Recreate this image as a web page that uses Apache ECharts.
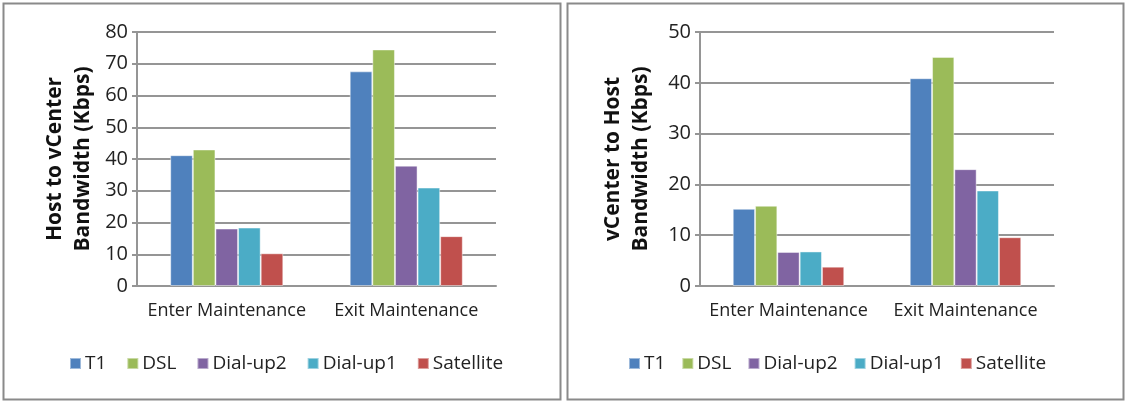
<!DOCTYPE html>
<html>
<head>
<meta charset="utf-8">
<script src="https://cdn.jsdelivr.net/npm/echarts@6/dist/echarts.min.js"></script>
<style>
  html, body { margin: 0; padding: 0; background: #fff; }
  #main { width: 1126px; height: 401px; }
</style>
</head>
<body>
<div id="main"></div>
<script>
const categories = ['Enter Maintenance', 'Exit Maintenance'];
const seriesNames = ['T1', 'DSL', 'Dial-up2', 'Dial-up1', 'Satellite'];
const colors = ['#4F81BD', '#9BBB59', '#8064A2', '#4BACC6', '#C0504D'];

// Host to vCenter (left)
const hostToVc = {
  T1: [41.2, 67.6],
  DSL: [43.0, 74.5],
  'Dial-up2': [18.1, 37.9],
  'Dial-up1': [18.4, 31.0],
  Satellite: [10.3, 15.7]
};
// vCenter to Host (right)
const vcToHost = {
  T1: [15.2, 40.9],
  DSL: [15.8, 45.1],
  'Dial-up2': [6.7, 23.0],
  'Dial-up1': [6.8, 18.8],
  Satellite: [3.8, 9.6]
};

const font = 'Open Sans';
const gridColor = '#959595';

function yAxisCfg(gridIndex, max, interval, name, gap) {
  return {
    type: 'value', gridIndex: gridIndex, min: 0, max: max, interval: interval,
    name: name, nameLocation: 'middle', nameRotate: 90, nameGap: gap,
    nameTextStyle: { fontFamily: font, fontSize: 21, fontWeight: 'bold', color: '#111', lineHeight: 28 },
    axisLine: { show: true, lineStyle: { color: gridColor, width: 2 } },
    axisTick: { show: true, length: 5, lineStyle: { color: gridColor, width: 2 } },
    axisLabel: { fontFamily: font, fontSize: 20, color: '#222', margin: 9 },
    splitLine: { show: true, lineStyle: { color: gridColor, width: 2 } }
  };
}
function xAxisCfg(gridIndex) {
  return {
    type: 'category', gridIndex: gridIndex, data: categories,
    axisLine: { show: true, lineStyle: { color: gridColor, width: 2 } },
    axisTick: { show: false },
    axisLabel: { fontFamily: font, fontSize: 18, color: '#222', margin: 16, interval: 0, hideOverlap: false }
  };
}
function makeSeries(data, idx) {
  return seriesNames.map(function (n, i) {
    return {
      name: n, type: 'bar', xAxisIndex: idx, yAxisIndex: idx,
      data: data[n], barGap: '0%', barCategoryGap: '37%',
      itemStyle: { color: colors[i], borderColor: 'rgba(255,255,255,0.45)', borderWidth: 1 },
      emphasis: { disabled: true }
    };
  });
}
function legendCfg(left, gap) {
  return {
    left: left, top: 349, data: seriesNames, icon: 'rect',
    itemWidth: 11, itemHeight: 11, itemGap: gap,
    textStyle: { fontFamily: font, fontSize: 19, color: '#222', padding: [0, 0, 0, -1] }
  };
}

const chart = echarts.init(document.getElementById('main'));
chart.setOption({
  animation: false,
  color: colors,
  grid: [
    { left: 137, top: 32, width: 359, height: 254 },
    { left: 700, top: 32, width: 354, height: 254 }
  ],
  xAxis: [xAxisCfg(0), xAxisCfg(1)],
  yAxis: [
    yAxisCfg(0, 80, 10, 'Host to vCenter\nBandwidth (Kbps)', 40),
    yAxisCfg(1, 50, 10, 'vCenter to Host\nBandwidth (Kbps)', 45)
  ],
  legend: [legendCfg(64, 20), legendCfg(623, 16)],
  graphic: [
    { type: 'rect', shape: { x: 3.5, y: 3.5, width: 557, height: 396 }, style: { fill: 'none', stroke: '#8a8a8a', lineWidth: 2 } },
    { type: 'rect', shape: { x: 567.5, y: 3.5, width: 556, height: 396 }, style: { fill: 'none', stroke: '#8a8a8a', lineWidth: 2 } }
  ],
  series: makeSeries(hostToVc, 0).concat(makeSeries(vcToHost, 1))
});
</script>
</body>
</html>
